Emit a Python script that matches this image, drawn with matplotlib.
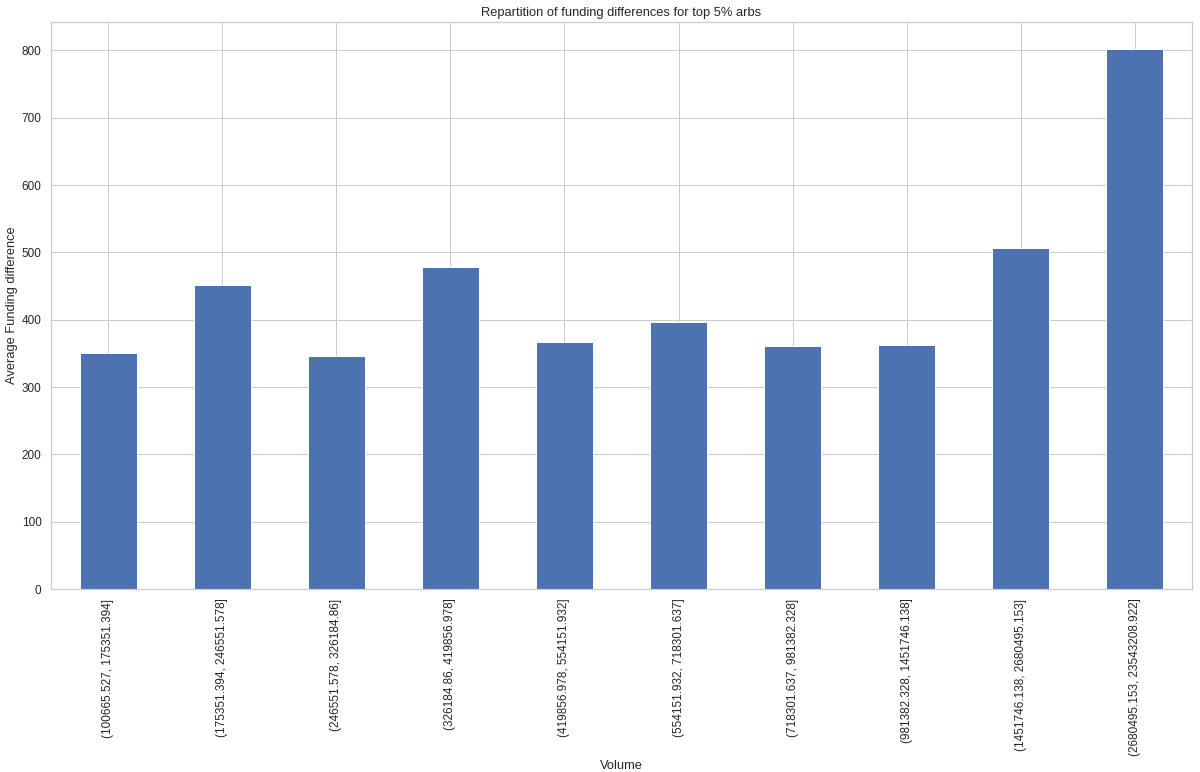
import matplotlib
matplotlib.use('Agg')
import matplotlib.pyplot as plt
import seaborn as sns
import pandas as pd

# ========== 数据 ==========
volume_bins = [
    "(100665.527, 175351.394]",
    "(175351.394, 246551.578]",
    "(246551.578, 326184.86]",
    "(326184.86, 419856.978]",
    "(419856.978, 554151.932]",
    "(554151.932, 718301.637]",
    "(718301.637, 981382.328]",
    "(981382.328, 1451746.138]",
    "(1451746.138, 2680495.153]",
    "(2680495.153, 23543208.922]",
]
avg_funding_diff = [350, 451, 346, 478, 367, 396, 361, 362, 506, 802]

sns.set_theme(style="whitegrid", font_scale=1.07)
plt.rcParams['font.family'] = ['Liberation Sans', 'DejaVu Sans']

s = pd.Series(avg_funding_diff, index=pd.Index(volume_bins, name="Volume"))

# 72 dpi 画布 -> 1200x772 像素
fig, ax = plt.subplots(figsize=(1200 / 72, 772 / 72), dpi=72)
s.plot(kind="bar", ax=ax, color="#4C72B0")
ax.set_title("Repartition of funding differences for top 5% arbs")
ax.set_xlabel("Volume")
ax.set_ylabel("Average Funding difference")
fig.subplots_adjust(left=0.0425, right=0.9933, top=0.9715, bottom=0.237)
fig.savefig("out.png", dpi=72)
